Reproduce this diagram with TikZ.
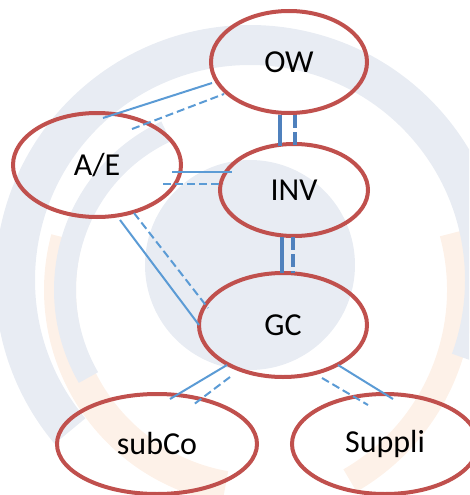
\documentclass[tikz,border=0pt]{standalone}
\usepackage{fontspec}
\setmainfont{Carlito}
\usetikzlibrary{shapes.geometric}
\definecolor{ellred}{HTML}{C0504D}
\definecolor{linkblue}{HTML}{5B9BD5}
\definecolor{thickblue}{HTML}{4F81BD}
\definecolor{wmblue}{HTML}{E8ECF3}
\definecolor{wmorange}{HTML}{FDF1E8}
\tikzset{
  ent/.style={ellipse, draw=ellred, line width=4pt, inner sep=0pt,
    font=\fontsize{32}{38}\selectfont},
  solidlink/.style={draw=linkblue, line width=2pt},
  dashlink/.style={draw=linkblue, line width=2pt, dash pattern=on 8pt off 4pt},
  thicksolid/.style={draw=thickblue, line width=4.5pt},
  thickdash/.style={draw=thickblue, line width=4.5pt, dash pattern=on 13pt off 4pt},
}
\begin{document}
\begin{tikzpicture}[x=1pt,y=-1pt]
\useasboundingbox (0,0) rectangle (469,495);
% watermark
\begin{scope}
\clip (0,0) rectangle (469,495);
\draw[wmorange, line width=32pt] (260,290) ++(100:200) arc (100:195:200);
\draw[wmorange, line width=26pt] (240,290) ++(-15:220) arc (-15:60:220);
\fill[wmblue] (250,265) circle (105);
\draw[wmblue, line width=40pt] (250,280) ++(140:235) arc (140:380:235);
\draw[wmblue, line width=22pt] (240,290) ++(150:175) arc (150:245:175);
\end{scope}
% nodes
\node[ent, minimum width=156pt, minimum height=102pt] (OW) at (289,62) {OW};
\node[ent, minimum width=168pt, minimum height=104pt] (AE) at (97,165) {A/E};
\node[ent, minimum width=148pt, minimum height=92pt] (INV) at (294,190) {INV};
\node[ent, minimum width=168pt, minimum height=104pt] (GC) at (283,325) {GC};
\node[ent, minimum width=200pt, minimum height=100pt] (SUB) at (157,444) {subCo};
\node[ent, minimum width=186pt, minimum height=100pt] (SUP) at (385,444) {Suppli};
% connector end points
\coordinate (aeowS1) at (103,118); \coordinate (aeowS2) at (212,83);
\coordinate (aeowD1) at (132,129); \coordinate (aeowD2) at (224,94);
\coordinate (aeinvS1) at (172,172); \coordinate (aeinvS2) at (232,172);
\coordinate (aeinvD1) at (163,184); \coordinate (aeinvD2) at (223,184);
\coordinate (owinvS1) at (280,115); \coordinate (owinvS2) at (280,146);
\coordinate (owinvD1) at (295,115); \coordinate (owinvD2) at (295,146);
\coordinate (invgcS1) at (282,237); \coordinate (invgcS2) at (282,273);
\coordinate (invgcD1) at (293,237); \coordinate (invgcD2) at (293,273);
\coordinate (aegcS1) at (120,220); \coordinate (aegcS2) at (199,325);
\coordinate (aegcD1) at (134,213); \coordinate (aegcD2) at (208,308);
\coordinate (gcsubS1) at (227,365); \coordinate (gcsubS2) at (170,399);
\coordinate (gcsubD1) at (230,377); \coordinate (gcsubD2) at (193,405);
\coordinate (gcsupS1) at (338,365); \coordinate (gcsupS2) at (393,399);
\coordinate (gcsupD1) at (322,378); \coordinate (gcsupD2) at (368,405);
% connectors
\draw[solidlink] (aeowS1) -- (aeowS2);
\draw[dashlink] (aeowD1) -- (aeowD2);
\draw[solidlink] (aeinvS1) -- (aeinvS2);
\draw[dashlink] (aeinvD1) -- (aeinvD2);
\draw[thicksolid] (owinvS1) -- (owinvS2);
\draw[thickdash] (owinvD1) -- (owinvD2);
\draw[thicksolid] (invgcS1) -- (invgcS2);
\draw[thickdash] (invgcD1) -- (invgcD2);
\draw[solidlink] (aegcS1) -- (aegcS2);
\draw[dashlink] (aegcD1) -- (aegcD2);
\draw[solidlink] (gcsubS1) -- (gcsubS2);
\draw[dashlink] (gcsubD1) -- (gcsubD2);
\draw[solidlink] (gcsupS1) -- (gcsupS2);
\draw[dashlink] (gcsupD1) -- (gcsupD2);
\end{tikzpicture}
\end{document}
